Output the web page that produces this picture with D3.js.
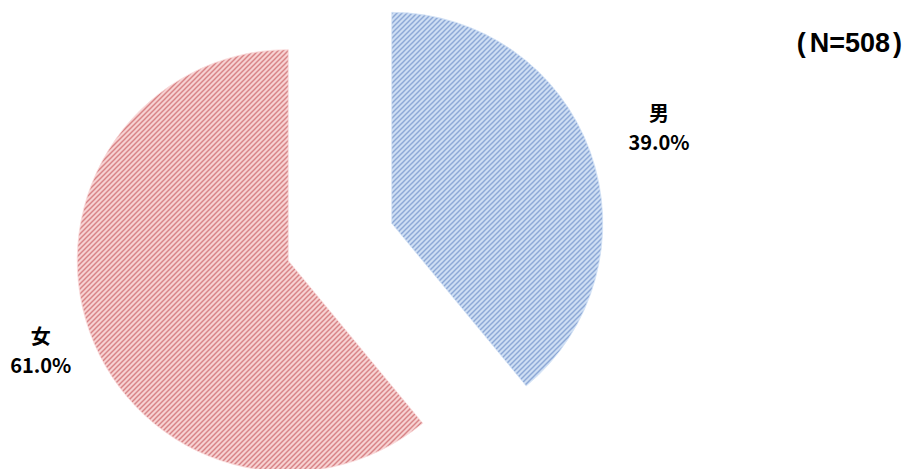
<!DOCTYPE html>
<html>
<head>
<meta charset="utf-8">
<script src="https://cdn.jsdelivr.net/npm/d3@7"></script>
<style>
  html, body { margin: 0; padding: 0; background: #fff; }
  svg { display: block; }
</style>
</head>
<body>
<svg id="chart" width="904" height="469"></svg>
<script>
// Respondent gender breakdown
const categories = ["男", "女"];
const shares = [39.0, 61.0];
const sampleSize = 508;

// Hatch colours per slice: light ground + darker diagonal stripe
const groundColors = ["#d4e3f6", "#fadada"];
const stripeColors = ["#6d8ec8", "#c95c60"];

const W = 904, H = 469;
const cx = 340, cy = 242, radius = 211, explode = 55;

const svg = d3.select("#chart");
const defs = svg.append("defs");

// Upward diagonal hatch patterns
categories.forEach((c, i) => {
  const p = defs.append("pattern")
    .attr("id", "hatch" + i)
    .attr("patternUnits", "userSpaceOnUse")
    .attr("width", 5).attr("height", 5);
  p.append("rect").attr("width", 5).attr("height", 5).attr("fill", groundColors[i]);
  p.append("path")
    .attr("d", "M-1,1 l2,-2 M0,5 l5,-5 M4,6 l2,-2")
    .attr("stroke", stripeColors[i])
    .attr("stroke-width", 1.2);
});

const pie = d3.pie().sort(null).value(d => d)
  .startAngle(0).endAngle(2 * Math.PI);
const arcs = pie(shares);
const arc = d3.arc().innerRadius(0).outerRadius(radius);

// Radial distance of each label block from its slice's apex
const labelDist = [284, 263];

const slices = svg.append("g").selectAll("g")
  .data(arcs)
  .join("g")
  .attr("transform", d => {
    const mid = (d.startAngle + d.endAngle) / 2;
    return `translate(${cx + explode * Math.sin(mid)},${cy - explode * Math.cos(mid)})`;
  });

slices.append("path")
  .attr("d", arc)
  .attr("fill", (d, i) => `url(#hatch${i})`)
  .attr("stroke", (d, i) => groundColors[i])
  .attr("stroke-width", 0.8);

const labels = slices.append("g")
  .attr("transform", (d, i) => {
    const mid = (d.startAngle + d.endAngle) / 2;
    return `translate(${labelDist[i] * Math.sin(mid)},${-labelDist[i] * Math.cos(mid)})`;
  })
  .attr("text-anchor", "middle")
  .attr("font-weight", "bold")
  .attr("fill", "#000");

labels.append("text")
  .attr("y", -14.5)
  .attr("dominant-baseline", "central")
  .attr("font-family", "'Noto Sans CJK JP', sans-serif")
  .attr("font-size", 20)
  .text((d, i) => categories[i]);

labels.append("text")
  .attr("y", 14.5)
  .attr("dominant-baseline", "central")
  .attr("font-family", "'Noto Sans CJK JP', sans-serif")
  .attr("font-weight", 700)
  .attr("font-size", 20)
  .text(d => d3.format(".1f")(d.data) + "%");

// Sample size note
const note = svg.append("text")
  .attr("x", 902).attr("y", 43)
  .attr("text-anchor", "end")
  .attr("dominant-baseline", "central")
  .attr("font-family", "'Liberation Sans', Arial, sans-serif")
  .attr("font-weight", "bold")
  .attr("font-size", 27)
  .attr("fill", "#000");
note.append("tspan").text("(");
note.append("tspan").attr("dx", 4).text(`N=${sampleSize}`);
note.append("tspan").attr("dx", 3).text(")");
</script>
</body>
</html>
